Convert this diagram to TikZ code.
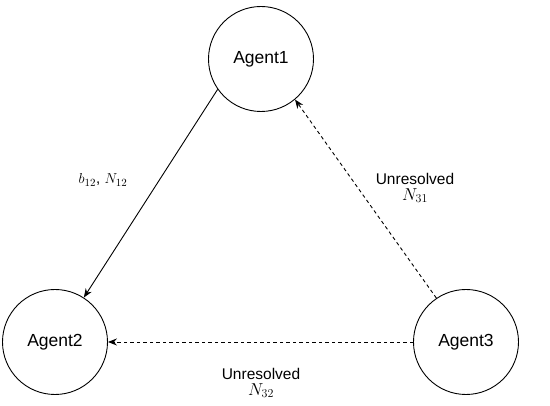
\documentclass[tikz,border=0pt]{standalone}
\usepackage{fontspec}
\setmainfont{Liberation Sans}
\usetikzlibrary{arrows.meta}
\begin{document}
\begin{tikzpicture}[x=1pt,y=1pt,
  agent/.style={circle,draw,line width=0.9pt,minimum size=105pt,inner sep=0pt,font=\fontsize{17.5}{20}\selectfont},
  link/.style={line width=0.9pt,-{Stealth[length=9pt,width=7pt,inset=3pt]}},
  dlink/.style={link,dash pattern=on 3.5pt off 3pt},
  lbl/.style={font=\fontsize{15.5}{18}\selectfont,align=center}]
\useasboundingbox (0,0) rectangle (550,406);
\node[agent] (a1) at (261,347) {Agent1};
\node[agent] (a2) at (55,64) {Agent2};
\node[agent] (a3) at (466,64) {Agent3};
\draw[link] (a1.215) -- (a2.57.5);
\draw[dlink] (a3.124.6) -- (a1.310.7);
\draw[dlink] (a3.west) -- (a2.east);
\node[lbl,font=\fontsize{15}{18}\selectfont] (l12) at (103,226) {$b_{12}$, $N_{12}$};
\node[lbl] (l31) at (415,218) {Unresolved\\[-2pt]{\fontsize{16.5}{18}\selectfont$N_{31}$}};
\node[lbl] (l32) at (261,23) {Unresolved\\[-2pt]{\fontsize{16.5}{18}\selectfont$N_{32}$}};
\end{tikzpicture}
\end{document}
